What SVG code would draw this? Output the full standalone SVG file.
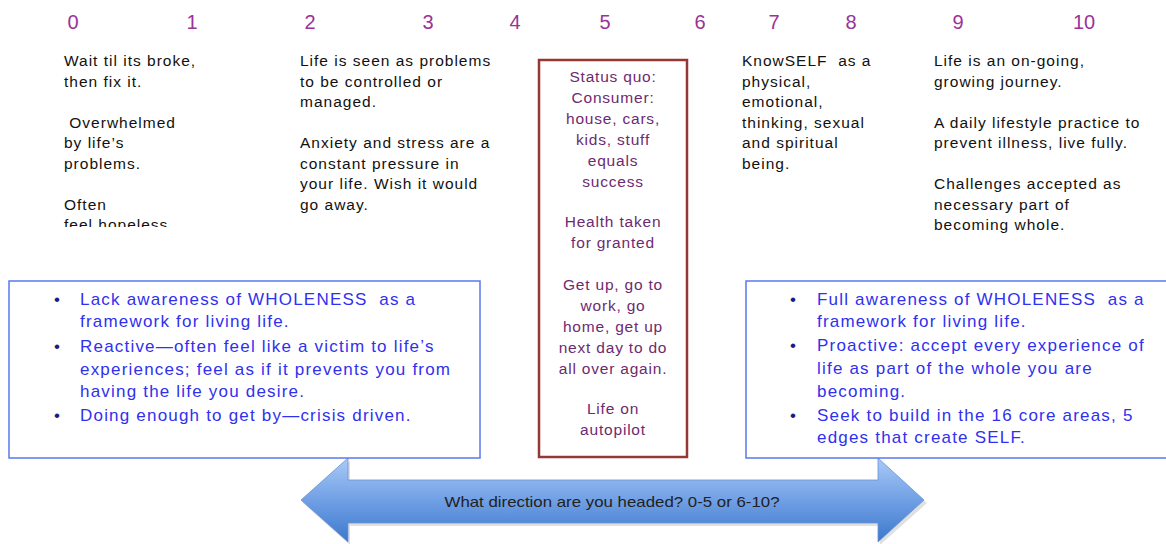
<svg xmlns="http://www.w3.org/2000/svg" width="1166" height="544" viewBox="0 0 1166 544">
<defs>
<style>
.num{font-family:"Liberation Sans",Arial,sans-serif;font-size:20px;fill:#993399;text-anchor:middle}
.col{font-family:"Liberation Sans",Arial,sans-serif;font-size:15.5px;letter-spacing:1px;fill:#111}
.mid{font-family:"Liberation Sans",Arial,sans-serif;font-size:15.5px;letter-spacing:0.8px;fill:#6e2a70;text-anchor:middle}
.blu{font-family:"Liberation Sans",Arial,sans-serif;font-size:17px;letter-spacing:1.2px;fill:#3030f0}
.bul{font-family:"Liberation Sans",Arial,sans-serif;font-size:17px;fill:#1c1c80}
.box{fill:#fff;stroke:#5a78f0;stroke-width:1.5}
.arr{font-family:"Liberation Sans",Arial,sans-serif;font-size:14.5px;fill:#222;text-anchor:middle}
</style>
<linearGradient id="ag" x1="0" y1="458" x2="0" y2="544" gradientUnits="userSpaceOnUse">
<stop offset="0" stop-color="#a9caf6"/>
<stop offset="0.5" stop-color="#6f9fe4"/>
<stop offset="1" stop-color="#3a76cb"/>
</linearGradient>
<clipPath id="cl"><rect x="0" y="0" width="300" height="227"/></clipPath>
</defs>

<g id="scale">
<text class="num" x="73" y="29">0</text>
<text class="num" x="192" y="29">1</text>
<text class="num" x="310" y="29">2</text>
<text class="num" x="428" y="29">3</text>
<text class="num" x="515" y="29">4</text>
<text class="num" x="605" y="29">5</text>
<text class="num" x="700" y="29">6</text>
<text class="num" x="774" y="29">7</text>
<text class="num" x="851" y="29">8</text>
<text class="num" x="958" y="29">9</text>
<text class="num" x="1084" y="29">10</text>
</g>

<g id="col0" clip-path="url(#cl)">
<text class="col" x="64" y="66">Wait til its broke,</text>
<text class="col" x="64" y="86.5">then fix it.</text>
<text class="col" x="64" y="127.5" xml:space="preserve"> Overwhelmed</text>
<text class="col" x="64" y="148">by life’s</text>
<text class="col" x="64" y="168.5">problems.</text>
<text class="col" x="64" y="209.5">Often</text>
<text class="col" x="64" y="230">feel hopeless</text>
</g>

<g id="col2">
<text class="col" x="300" y="66">Life is seen as problems</text>
<text class="col" x="300" y="86.5">to be controlled or</text>
<text class="col" x="300" y="107">managed.</text>
<text class="col" x="300" y="148">Anxiety and stress are a</text>
<text class="col" x="300" y="168.5">constant pressure in</text>
<text class="col" x="300" y="189">your life. Wish it would</text>
<text class="col" x="300" y="209.5">go away.</text>
</g>

<g id="col7">
<text class="col" x="742" y="66" xml:space="preserve">KnowSELF  as a</text>
<text class="col" x="742" y="86.5">physical,</text>
<text class="col" x="742" y="107">emotional,</text>
<text class="col" x="742" y="127.5">thinking, sexual</text>
<text class="col" x="742" y="148">and spiritual</text>
<text class="col" x="742" y="168.5">being.</text>
</g>

<g id="col9">
<text class="col" x="934" y="66">Life is an on-going,</text>
<text class="col" x="934" y="86.5">growing journey.</text>
<text class="col" x="934" y="127.5">A daily lifestyle practice to</text>
<text class="col" x="934" y="148">prevent illness, live fully.</text>
<text class="col" x="934" y="189">Challenges accepted as</text>
<text class="col" x="934" y="209.5">necessary part of</text>
<text class="col" x="934" y="230">becoming whole.</text>
</g>

<g id="connectors">
<path d="M303,503 L350,461 L350,483 L880,483 L880,461 L927,503 L880,545 L880,526 L350,526 L350,545 Z" fill="#000" opacity="0.12"/>
<path d="M301,500 L348,458 L348,480 L878,480 L878,458 L924,500 L878,542 L878,523 L348,523 L348,542 Z" fill="url(#ag)" stroke="#6b93d4" stroke-width="0.8"/>
<text class="arr" x="612" y="507" textLength="335" lengthAdjust="spacingAndGlyphs">What direction are you headed? 0-5 or 6-10?</text>
</g>

<g id="status">
<rect x="539" y="60" width="148" height="397" fill="#fff" stroke="#953735" stroke-width="2.5"/>
<text class="mid" x="613" y="82">Status quo:</text>
<text class="mid" x="613" y="103">Consumer:</text>
<text class="mid" x="613" y="124">house, cars,</text>
<text class="mid" x="613" y="145">kids, stuff</text>
<text class="mid" x="613" y="166">equals</text>
<text class="mid" x="613" y="187">success</text>
<text class="mid" x="613" y="227">Health taken</text>
<text class="mid" x="613" y="248">for granted</text>
<text class="mid" x="613" y="290">Get up, go to</text>
<text class="mid" x="613" y="311">work, go</text>
<text class="mid" x="613" y="332">home, get up</text>
<text class="mid" x="613" y="353">next day to do</text>
<text class="mid" x="613" y="374">all over again.</text>
<text class="mid" x="613" y="414">Life on</text>
<text class="mid" x="613" y="435">autopilot</text>
</g>

<g id="left-box">
<rect class="box" x="9" y="281" width="471" height="177"/>
<text class="bul" x="54" y="305">•</text>
<text class="bul" x="54" y="352">•</text>
<text class="bul" x="54" y="421">•</text>
<text class="blu" x="80" y="305" xml:space="preserve">Lack awareness of WHOLENESS  as a</text>
<text class="blu" x="80" y="327">framework for living life.</text>
<text class="blu" x="80" y="352">Reactive—often feel like a victim to life’s</text>
<text class="blu" x="80" y="375">experiences; feel as if it prevents you from</text>
<text class="blu" x="80" y="397">having the life you desire.</text>
<text class="blu" x="80" y="421">Doing enough to get by—crisis driven.</text>
</g>

<g id="right-box">
<rect class="box" x="746" y="281" width="425" height="177"/>
<text class="bul" x="790" y="305">•</text>
<text class="bul" x="790" y="351">•</text>
<text class="bul" x="790" y="421">•</text>
<text class="blu" x="817" y="305" xml:space="preserve">Full awareness of WHOLENESS  as a</text>
<text class="blu" x="817" y="327">framework for living life.</text>
<text class="blu" x="817" y="351">Proactive: accept every experience of</text>
<text class="blu" x="817" y="374">life as part of the whole you are</text>
<text class="blu" x="817" y="397">becoming.</text>
<text class="blu" x="817" y="421">Seek to build in the 16 core areas, 5</text>
<text class="blu" x="817" y="443">edges that create SELF.</text>
</g>
</svg>
